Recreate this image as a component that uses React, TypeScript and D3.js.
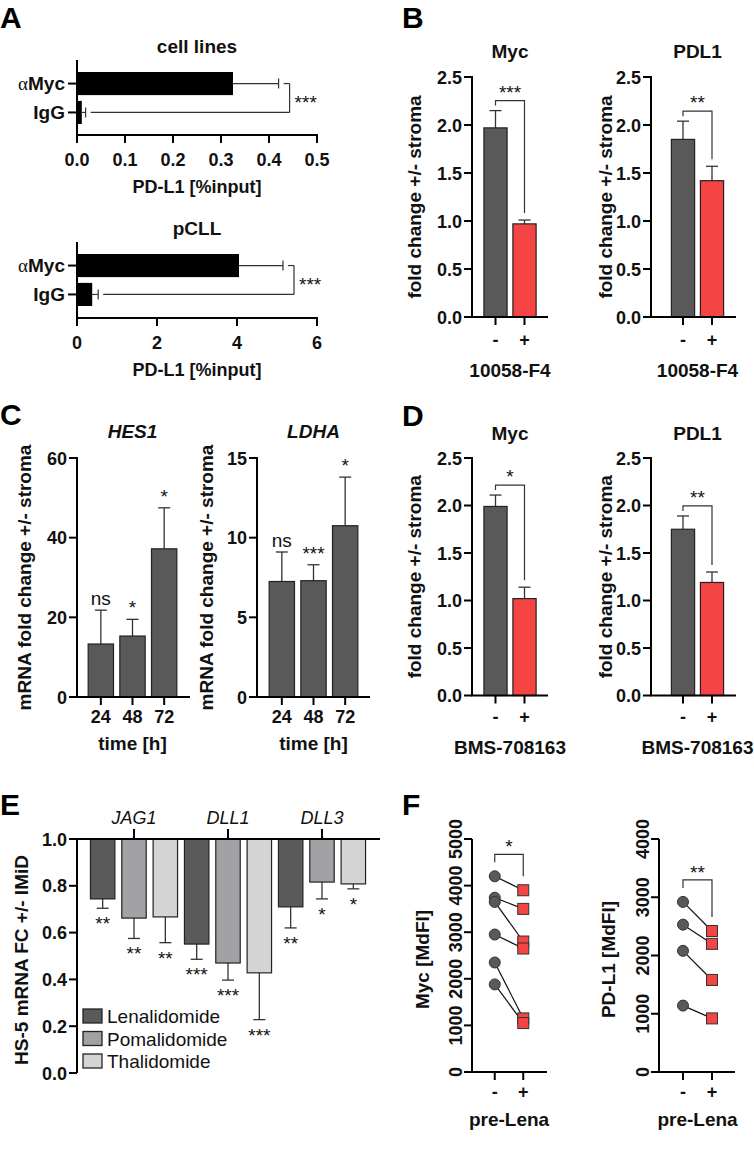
import React from 'react';
import * as d3 from 'd3';

const FONT = "'Liberation Sans', Arial, Helvetica, sans-serif";
const GREY = '#595959';
const RED = '#f44444';
const INK = '#111';
const LINE = '#333';

// A: ChIP, PD-L1 promoter
const chipCategories = ['αMyc', 'IgG'];
const chipCellLines = [0.325, 0.01];
const chipCellLinesErr = [0.095, 0.008];
const chipCellLinesTicks = [0, 0.1, 0.2, 0.3, 0.4, 0.5];
const chipPCLL = [4.05, 0.38];
const chipPCLLErr = [1.1, 0.15];
const chipPCLLTicks = [0, 2, 4, 6];

// B / D: fold change +/- stroma
const treatment = ['-', '+'];
const foldTicks = [0, 0.5, 1.0, 1.5, 2.0, 2.5];
const f4Myc = [1.97, 0.97];
const f4MycErr = [0.18, 0.04];
const f4Pdl1 = [1.85, 1.42];
const f4Pdl1Err = [0.19, 0.15];
const bmsMyc = [1.99, 1.02];
const bmsMycErr = [0.12, 0.12];
const bmsPdl1 = [1.75, 1.19];
const bmsPdl1Err = [0.14, 0.11];

// C: time course
const timepoints = ['24', '48', '72'];
const hes1 = [13.3, 15.3, 37.2];
const hes1Err = [8.5, 4.2, 10.3];
const hes1Sig = ['ns', '*', '*'];
const hes1Ticks = [0, 20, 40, 60];
const ldha = [7.25, 7.3, 10.75];
const ldhaErr = [1.85, 1.0, 3.05];
const ldhaSig = ['ns', '***', '*'];
const ldhaTicks = [0, 5, 10, 15];

// E: HS-5 + IMiDs
const notchGenes = ['JAG1', 'DLL1', 'DLL3'];
const imids = ['Lenalidomide', 'Pomalidomide', 'Thalidomide'];
const imidColors = ['#5a5a5a', '#a2a2a6', '#d4d4d4'];
const lenaFC = [0.744, 0.551, 0.71];
const lenaErr = [0.04, 0.065, 0.09];
const lenaSig = ['**', '***', '**'];
const pomaFC = [0.662, 0.47, 0.816];
const pomaErr = [0.087, 0.073, 0.072];
const pomaSig = ['**', '***', '*'];
const thalFC = [0.667, 0.428, 0.808];
const thalErr = [0.11, 0.2, 0.021];
const thalSig = ['**', '***', '*'];
const imidTicks = [0, 0.2, 0.4, 0.6, 0.8, 1.0];

// F: paired MdFI
const mycPre = [4200, 3740, 3650, 2950, 2350, 1880];
const mycPost = [3900, 3500, 2800, 2650, 1150, 1050];
const mycTicks = [0, 1000, 2000, 3000, 4000, 5000];
const pdl1Pre = [2920, 2530, 2080, 1140];
const pdl1Post = [2420, 2200, 1580, 920];
const pdl1Ticks = [0, 1000, 2000, 3000, 4000];

const tickStyle: React.CSSProperties = { fontFamily: FONT, fontWeight: 700, fontSize: 18, fill: INK };
const titleStyle: React.CSSProperties = { fontFamily: FONT, fontWeight: 700, fontSize: 19, fill: INK };
const sigStyle: React.CSSProperties = { fontFamily: FONT, fontWeight: 400, fontSize: 19, fill: INK };

function PanelLetter({ x, y, children }: { x: number; y: number; children: string }) {
  return (
    <text x={x} y={y} style={{ fontFamily: FONT, fontWeight: 700, fontSize: 30, fill: '#000' }}>
      {children}
    </text>
  );
}

function ChipPanel(p: {
  title: string; titleY: number; yTop: number; yBot: number; band: [number, number];
  ticks: number[]; fmt: (v: number) => string; values: number[]; errs: number[];
}) {
  const x0 = 77, xEnd = 317;
  const x = d3.scaleLinear().domain([0, p.ticks[p.ticks.length - 1]]).range([x0, xEnd]);
  const y = d3.scaleBand().domain(chipCategories).range(p.band).paddingInner(0.2);
  const cy = (c: string) => y(c)! + y.bandwidth() / 2;
  const ends = p.values.map((v, i) => x(v + p.errs[i]));
  const bx = d3.max(ends)! + 11;
  const mid = (cy(chipCategories[0]) + cy(chipCategories[1])) / 2;
  return (
    <g>
      <text x={(x0 + xEnd) / 2} y={p.titleY} textAnchor="middle" style={titleStyle}>{p.title}</text>
      {chipCategories.map((c, i) => (
        <g key={c}>
          <rect x={x0} y={y(c)} width={x(p.values[i]) - x0} height={y.bandwidth()} fill="#000" />
          <line x1={x(p.values[i])} x2={ends[i]} y1={cy(c)} y2={cy(c)} stroke={LINE} strokeWidth={1.2} />
          <line x1={ends[i]} x2={ends[i]} y1={cy(c) - 5} y2={cy(c) + 5} stroke={LINE} strokeWidth={1.2} />
          <line x1={ends[i] + 5} x2={bx} y1={cy(c)} y2={cy(c)} stroke={LINE} strokeWidth={1.2} />
          <line x1={x0 - 9} x2={x0} y1={cy(c)} y2={cy(c)} stroke="#000" strokeWidth={2} />
          <text x={x0 - 12} y={cy(c) + 6.5} textAnchor="end" style={{ ...tickStyle, fontSize: 19 }}>
            {c.startsWith('α') ? (
              <>
                <tspan style={{ fontFamily: "'Liberation Serif', serif", fontWeight: 400 }}>α</tspan>
                {c.slice(1)}
              </>
            ) : c}
          </text>
        </g>
      ))}
      <line x1={bx} x2={bx} y1={cy(chipCategories[0])} y2={cy(chipCategories[1])} stroke={LINE} strokeWidth={1.2} />
      <text x={bx + 5} y={mid + 11} style={sigStyle}>***</text>
      <line x1={x0} x2={x0} y1={p.yTop} y2={p.yBot} stroke="#000" strokeWidth={2} />
      <line x1={x0 - 1} x2={xEnd + 1} y1={p.yBot} y2={p.yBot} stroke="#000" strokeWidth={2} />
      {p.ticks.map(t => (
        <g key={t}>
          <line x1={x(t)} x2={x(t)} y1={p.yBot} y2={p.yBot + 8} stroke="#000" strokeWidth={2} />
          <text x={x(t)} y={p.yBot + 31} textAnchor="middle" style={tickStyle}>{p.fmt(t)}</text>
        </g>
      ))}
      <text x={(x0 + xEnd) / 2} y={p.yBot + 58} textAnchor="middle" style={{ ...titleStyle, fontSize: 18 }}>
        PD-L1 [%input]
      </text>
    </g>
  );
}

function BarPanel(p: {
  x0: number; xEnd: number; yTop: number; yBot: number; band: [number, number];
  cats: string[]; values: number[]; errs: number[]; fills: string[];
  ticks: number[]; fmt: (v: number) => string;
  title: string; italic?: boolean; titleY: number;
  yTitle: string; yTitleX: number; xTitle: string; catDy: number; xTitleDy: number;
  bracket?: string; sigs?: string[];
}) {
  const y = d3.scaleLinear().domain([0, p.ticks[p.ticks.length - 1]]).range([p.yBot, p.yTop]);
  const x = d3.scaleBand().domain(p.cats).range(p.band).paddingInner(0.2).paddingOuter(0.1);
  const cx = (c: string) => x(c)! + x.bandwidth() / 2;
  const mid = (cx(p.cats[0]) + cx(p.cats[p.cats.length - 1])) / 2;
  const errTop = p.values.map((v, i) => y(v + p.errs[i]));
  const bTop = d3.min(errTop)! - 10;
  return (
    <g>
      <text x={mid} y={p.titleY} textAnchor="middle" style={{ ...titleStyle, fontStyle: p.italic ? 'italic' : 'normal' }}>
        {p.title}
      </text>
      {p.cats.map((c, i) => (
        <g key={c}>
          <line x1={cx(c)} x2={cx(c)} y1={y(p.values[i])} y2={errTop[i]} stroke={LINE} strokeWidth={1.3} />
          <line x1={cx(c) - 6} x2={cx(c) + 6} y1={errTop[i]} y2={errTop[i]} stroke={LINE} strokeWidth={1.3} />
          <rect x={x(c)} y={y(p.values[i])} width={x.bandwidth()} height={p.yBot - y(p.values[i])}
            fill={p.fills[i]} stroke="#222" strokeWidth={1.2} />
          {p.sigs && (
            <text x={cx(c)} y={errTop[i] - 5} textAnchor="middle" style={sigStyle}>{p.sigs[i]}</text>
          )}
          <line x1={cx(c)} x2={cx(c)} y1={p.yBot} y2={p.yBot + 8} stroke="#000" strokeWidth={2} />
          <text x={cx(c)} y={p.yBot + p.catDy} textAnchor="middle" style={tickStyle}>{c}</text>
        </g>
      ))}
      {p.bracket && (
        <g fill="none" stroke={LINE} strokeWidth={1.2}>
          <path d={`M${cx(p.cats[0])},${errTop[0] - 5}V${bTop}H${cx(p.cats[1])}V${errTop[1] - 7}`} />
        </g>
      )}
      {p.bracket && (
        <text x={mid} y={bTop - 2} textAnchor="middle" style={sigStyle}>{p.bracket}</text>
      )}
      <line x1={p.x0} x2={p.x0} y1={p.yTop - 1} y2={p.yBot} stroke="#000" strokeWidth={2} />
      <line x1={p.x0 - 1} x2={p.xEnd} y1={p.yBot} y2={p.yBot} stroke="#000" strokeWidth={2} />
      {p.ticks.map(t => (
        <g key={t}>
          <line x1={p.x0 - 8} x2={p.x0} y1={y(t)} y2={y(t)} stroke="#000" strokeWidth={2} />
          <text x={p.x0 - 10} y={y(t) + 6.5} textAnchor="end" style={tickStyle}>{p.fmt(t)}</text>
        </g>
      ))}
      <text transform={`translate(${p.yTitleX},${(p.yTop + p.yBot) / 2}) rotate(-90)`} textAnchor="middle" style={titleStyle}>
        {p.yTitle}
      </text>
      <text x={mid} y={p.yBot + p.xTitleDy} textAnchor="middle" style={titleStyle}>{p.xTitle}</text>
    </g>
  );
}

function ImidPanel() {
  const x0 = 77, xEnd = 380, yTop = 839, yBot = 1073;
  const y = d3.scaleLinear().domain([0, 1]).range([yBot, yTop]);
  const gx = d3.scaleBand().domain(notchGenes).range([87, 369]);
  const sx = d3.scaleBand().domain(imids).range([0, gx.bandwidth()]).paddingInner(0.22).paddingOuter(0.11);
  const series = [
    { name: imids[0], values: lenaFC, errs: lenaErr, sigs: lenaSig, fill: imidColors[0] },
    { name: imids[1], values: pomaFC, errs: pomaErr, sigs: pomaSig, fill: imidColors[1] },
    { name: imids[2], values: thalFC, errs: thalErr, sigs: thalSig, fill: imidColors[2] },
  ];
  return (
    <g>
      {notchGenes.map((g, gi) => {
        const gc = gx(g)! + gx.bandwidth() / 2;
        return (
          <g key={g}>
            <text x={gc} y={824} textAnchor="middle"
              style={{ fontFamily: FONT, fontSize: 18, fontStyle: 'italic', fill: INK }}>{g}</text>
            <line x1={gc} x2={gc} y1={yTop - 10} y2={yTop} stroke="#000" strokeWidth={2} />
            {series.map(s => {
              const bx = gx(g)! + sx(s.name)!;
              const c = bx + sx.bandwidth() / 2;
              const vy = y(s.values[gi]);
              const ey = y(s.values[gi] - s.errs[gi]);
              return (
                <g key={s.name}>
                  <line x1={c} x2={c} y1={vy} y2={ey} stroke={LINE} strokeWidth={1.3} />
                  <line x1={c - 6} x2={c + 6} y1={ey} y2={ey} stroke={LINE} strokeWidth={1.3} />
                  <rect x={bx} y={yTop} width={sx.bandwidth()} height={vy - yTop} fill={s.fill} stroke="#222" strokeWidth={1.2} />
                  <text x={c} y={ey + 22} textAnchor="middle" style={sigStyle}>{s.sigs[gi]}</text>
                </g>
              );
            })}
          </g>
        );
      })}
      <line x1={x0} x2={x0} y1={yTop} y2={yBot} stroke="#000" strokeWidth={2} />
      <line x1={x0 - 1} x2={xEnd} y1={yTop} y2={yTop} stroke="#000" strokeWidth={2} />
      {imidTicks.map(t => (
        <g key={t}>
          <line x1={x0 - 8} x2={x0} y1={y(t)} y2={y(t)} stroke="#000" strokeWidth={2} />
          <text x={x0 - 10} y={y(t) + 6.5} textAnchor="end" style={tickStyle}>{t.toFixed(1)}</text>
        </g>
      ))}
      <text transform={`translate(28,${(yTop + yBot) / 2 + 4}) rotate(-90)`} textAnchor="middle" style={titleStyle}>
        HS-5 mRNA FC +/- IMiD
      </text>
      {series.map((s, i) => (
        <g key={s.name} transform={`translate(83,${1016 + i * 22.5})`}>
          <rect x={0} y={-7} width={19} height={14} fill={s.fill} stroke="#222" strokeWidth={1.3} />
          <text x={24} y={7} style={{ fontFamily: FONT, fontSize: 19, fill: INK }}>{s.name}</text>
        </g>
      ))}
    </g>
  );
}

function PairedPanel(p: {
  x0: number; xEnd: number; band: [number, number]; pre: number[]; post: number[];
  ticks: number[]; yTitle: string; yTitleX: number; sig: string;
}) {
  const yTop = 839, yBot = 1072;
  const y = d3.scaleLinear().domain([0, p.ticks[p.ticks.length - 1]]).range([yBot, yTop]);
  const x = d3.scaleBand().domain(treatment).range(p.band).paddingInner(0.2).paddingOuter(0.1);
  const c0 = x('-')! + x.bandwidth() / 2;
  const c1 = x('+')! + x.bandwidth() / 2;
  const bTop = y(d3.max(p.pre)!) - 22;
  return (
    <g>
      {p.pre.map((v, i) => (
        <line key={i} x1={c0} y1={y(v)} x2={c1} y2={y(p.post[i])} stroke="#111" strokeWidth={1.2} />
      ))}
      {p.pre.map((v, i) => (
        <circle key={i} cx={c0} cy={y(v)} r={5.5} fill={GREY} stroke="#333" strokeWidth={1} />
      ))}
      {p.post.map((v, i) => (
        <rect key={i} x={c1 - 5.5} y={y(v) - 5.5} width={11} height={11} fill={RED} stroke="#333" strokeWidth={1} />
      ))}
      <path d={`M${c0},${y(d3.max(p.pre)!) - 14}V${bTop}H${c1}V${y(d3.max(p.post)!) - 14}`} fill="none" stroke={LINE} strokeWidth={1.2} />
      <text x={(c0 + c1) / 2} y={bTop - 1} textAnchor="middle" style={sigStyle}>{p.sig}</text>
      <line x1={p.x0} x2={p.x0} y1={yTop} y2={yBot} stroke="#000" strokeWidth={2} />
      <line x1={p.x0 - 1} x2={p.xEnd} y1={yBot} y2={yBot} stroke="#000" strokeWidth={2} />
      {p.ticks.map(t => (
        <g key={t}>
          <line x1={p.x0 - 8} x2={p.x0} y1={y(t)} y2={y(t)} stroke="#000" strokeWidth={2} />
          <text transform={`translate(${p.x0 - 10},${y(t)}) rotate(-90)`} textAnchor="middle" style={tickStyle}>{t}</text>
        </g>
      ))}
      {treatment.map(t => {
        const c = x(t)! + x.bandwidth() / 2;
        return (
          <g key={t}>
            <line x1={c} x2={c} y1={yBot} y2={yBot + 8} stroke="#000" strokeWidth={2} />
            <text x={c} y={yBot + 26} textAnchor="middle" style={tickStyle}>{t}</text>
          </g>
        );
      })}
      <text transform={`translate(${p.yTitleX},${(yTop + yBot) / 2 + 4}) rotate(-90)`} textAnchor="middle" style={titleStyle}>
        {p.yTitle}
      </text>
      <text x={(c0 + c1) / 2} y={yBot + 54} textAnchor="middle" style={titleStyle}>pre-Lena</text>
    </g>
  );
}

export default function App() {
  const f1 = (v: number) => v.toFixed(1);
  const f0 = (v: number) => String(v);
  return (
    <svg width={754} height={1149} style={{ position: 'absolute', left: 0, top: 0, background: '#fff' }}>
      <rect width={754} height={1149} fill="#fff" />
      <PanelLetter x={0} y={28}>A</PanelLetter>
      <PanelLetter x={402} y={28}>B</PanelLetter>
      <PanelLetter x={0} y={425}>C</PanelLetter>
      <PanelLetter x={402} y={426}>D</PanelLetter>
      <PanelLetter x={0} y={815}>E</PanelLetter>
      <PanelLetter x={402} y={815}>F</PanelLetter>

      <ChipPanel title="cell lines" titleY={53} yTop={60} yBot={135} band={[72, 124]}
        ticks={chipCellLinesTicks} fmt={f1} values={chipCellLines} errs={chipCellLinesErr} />
      <ChipPanel title="pCLL" titleY={235} yTop={242} yBot={318} band={[254, 306]}
        ticks={chipPCLLTicks} fmt={f0} values={chipPCLL} errs={chipPCLLErr} />

      <BarPanel x0={472} xEnd={548} yTop={77} yBot={317} band={[481, 539]} cats={treatment}
        values={f4Myc} errs={f4MycErr} fills={[GREY, RED]} ticks={foldTicks} fmt={f1}
        title="Myc" titleY={58} yTitle="fold change +/- stroma" yTitleX={421}
        xTitle="10058-F4" catDy={29} xTitleDy={60} bracket="***" />
      <BarPanel x0={651} xEnd={736} yTop={77} yBot={317} band={[668.5, 726.5]} cats={treatment}
        values={f4Pdl1} errs={f4Pdl1Err} fills={[GREY, RED]} ticks={foldTicks} fmt={f1}
        title="PDL1" titleY={58} yTitle="fold change +/- stroma" yTitleX={612}
        xTitle="10058-F4" catDy={29} xTitleDy={60} bracket="**" />

      <BarPanel x0={77} xEnd={190} yTop={458} yBot={697} band={[85, 180]} cats={timepoints}
        values={hes1} errs={hes1Err} fills={[GREY, GREY, GREY]} ticks={hes1Ticks} fmt={f0}
        title="HES1" italic titleY={438} yTitle="mRNA fold change +/- stroma" yTitleX={31}
        xTitle="time [h]" catDy={26} xTitleDy={53} sigs={hes1Sig} />
      <BarPanel x0={257} xEnd={370} yTop={458} yBot={697} band={[266, 361]} cats={timepoints}
        values={ldha} errs={ldhaErr} fills={[GREY, GREY, GREY]} ticks={ldhaTicks} fmt={f0}
        title="LDHA" italic titleY={438} yTitle="mRNA fold change +/- stroma" yTitleX={213}
        xTitle="time [h]" catDy={26} xTitleDy={53} sigs={ldhaSig} />

      <BarPanel x0={472} xEnd={548} yTop={458} yBot={695.5} band={[481, 539]} cats={treatment}
        values={bmsMyc} errs={bmsMycErr} fills={[GREY, RED]} ticks={foldTicks} fmt={f1}
        title="Myc" titleY={440} yTitle="fold change +/- stroma" yTitleX={421}
        xTitle="BMS-708163" catDy={27} xTitleDy={58} bracket="*" />
      <BarPanel x0={651} xEnd={736} yTop={458} yBot={695.5} band={[668.5, 726.5]} cats={treatment}
        values={bmsPdl1} errs={bmsPdl1Err} fills={[GREY, RED]} ticks={foldTicks} fmt={f1}
        title="PDL1" titleY={440} yTitle="fold change +/- stroma" yTitleX={612}
        xTitle="BMS-708163" catDy={27} xTitleDy={58} bracket="**" />

      <ImidPanel />

      <PairedPanel x0={472} xEnd={547} band={[480.5, 537.5]} pre={mycPre} post={mycPost}
        ticks={mycTicks} yTitle="Myc [MdFI]" yTitleX={429} sig="*" />
      <PairedPanel x0={659} xEnd={735} band={[668.5, 726.5]} pre={pdl1Pre} post={pdl1Post}
        ticks={pdl1Ticks} yTitle="PD-L1 [MdFI]" yTitleX={615} sig="**" />
    </svg>
  );
}
